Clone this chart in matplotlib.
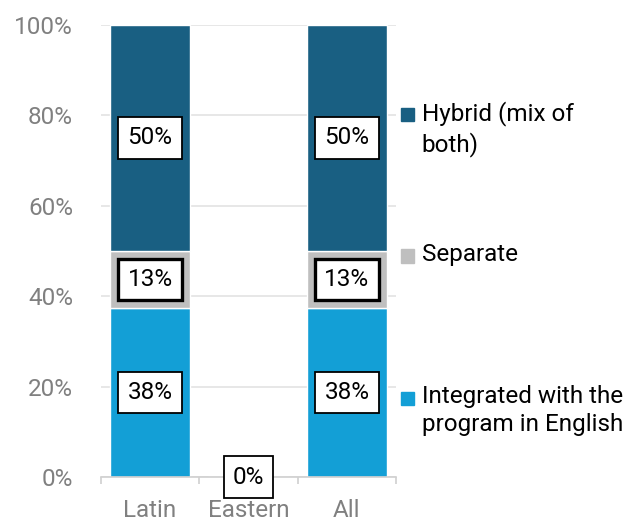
import matplotlib.pyplot as plt
import numpy as np
from matplotlib.patches import Rectangle

plt.rcParams['font.family'] = ['Roboto', 'DejaVu Sans']

categories = ['Latin', 'Eastern', 'All']
series_names = ['Integrated with the\nprogram in English', 'Separate', 'Hybrid (mix of\nboth)']
integrated = [37.5, 0, 37.5]
separate = [12.5, 0, 12.5]
hybrid = [50, 0, 50]
labels_integrated = ['38%', '0%', '38%']
labels_separate = ['13%', '', '13%']
labels_hybrid = ['50%', '', '50%']

colors = ['#139fd6', '#bfbfbf', '#195f82']

fig = plt.figure(figsize=(6.42, 5.25), dpi=100)
ax = fig.add_axes([0.157, 0.0914, 0.46, 0.861])

x = np.arange(len(categories))
w = 0.82
bottom = np.zeros(len(categories))
stack = [integrated, separate, hybrid]
texts = [labels_integrated, labels_separate, labels_hybrid]
edge_w = [1.3, 2.4, 1.3]
for vals, col, labs, lw in zip(stack, colors, texts, edge_w):
    vals = np.array(vals, dtype=float)
    ax.bar(x, vals, w, bottom=bottom, color=col, edgecolor='white', linewidth=1, zorder=2)
    for xi, v, b, lab in zip(x, vals, bottom, labs):
        if lab:
            ax.text(xi, b + v / 2, lab, ha='center', va='center', fontsize=17.5, zorder=4,
                    bbox=dict(boxstyle='square,pad=0.38', fc='white', ec='black', lw=lw))
    bottom += vals

ax.set_xlim(-0.5, 2.5)
ax.set_ylim(0, 100)
ax.set_yticks(range(0, 101, 20))
ax.set_yticklabels([f'{v}%' for v in range(0, 101, 20)])
ax.set_xticks(x)
ax.set_xticklabels(categories)
ax.set_xticks([-0.5, 0.5, 1.5, 2.5], minor=True)
ax.tick_params(axis='y', length=0, pad=20, labelsize=17.5, labelcolor='#808080')
ax.tick_params(axis='x', which='major', length=0, pad=16, labelsize=17.5, labelcolor='#808080')
ax.tick_params(axis='x', which='minor', length=5, width=1.2, color='#d0d0d0')
ax.grid(axis='y', color='#e3e3e3', lw=1.2, zorder=0)
ax.set_axisbelow(True)
for s in ['left', 'right', 'top']:
    ax.spines[s].set_visible(False)
ax.spines['bottom'].set_color('#d0d0d0')
ax.spines['bottom'].set_linewidth(1.2)

# legend drawn by hand to follow the original spacing
leg_y = [0.781, 0.512, 0.241]
for name, col, yy in zip(series_names[::-1], colors[::-1], leg_y):
    fig.patches.append(Rectangle((0.624, yy - 0.012), 0.021, 0.025, transform=fig.transFigure,
                                 color=col))
    fig.text(0.657, yy + 0.026, name, ha='left', va='top', fontsize=17.5, linespacing=1.3)

plt.savefig('out.png', dpi=100)
